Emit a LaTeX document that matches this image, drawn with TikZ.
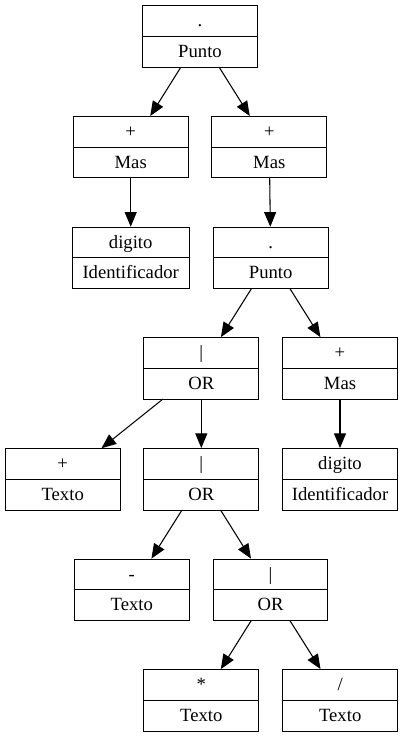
\documentclass[tikz,border=0pt]{standalone}
\usepackage{fontspec}
\setmainfont{Liberation Serif}
\usetikzlibrary{arrows.meta}
\tikzset{
  recbox/.style={draw=black, line width=0.75pt, minimum height=46.1pt, inner sep=0pt, outer sep=0pt},
  lbl/.style={font=\fontsize{14pt}{16pt}\selectfont, anchor=base, inner sep=0pt},
  arr/.style={line width=0.8pt, -{Triangle[length=11pt, width=9pt]}, shorten >=0.4pt}
}
% #1 name, #2 x, #3 y (center, px), #4 width px, #5 top text, #6 bottom text
\newcommand{\recnode}[6]{%
  \node[recbox, minimum width=#4*0.75pt] (#1) at (#2,#3) {};
  \draw[line width=0.75pt] (#1.west) -- (#1.east);
  \node[lbl] (#1-t) at (#2,#3-15.4+5.6) {#5};
  \node[lbl] (#1-b) at (#2,#3+15.4+5.6) {#6};
}
\begin{document}
\begin{tikzpicture}[x=0.75pt, y=-0.75pt]
\useasboundingbox (0,0) rectangle (405,737);
\recnode{root}{200}{36.6}{114.6}{.}{Punto}
\recnode{masL}{130.7}{147.2}{114.7}{+}{Mas}
\recnode{masR}{269.3}{147.2}{114.7}{+}{Mas}
\recnode{digL}{130.7}{258}{117.3}{digito}{Identificador}
\recnode{pun}{270.7}{258}{114.7}{.}{Punto}
\recnode{orA}{201.3}{368.3}{114.7}{|}{OR}
\recnode{masR2}{340}{368.3}{114.7}{+}{Mas}
\recnode{texP}{62.7}{479.3}{114.7}{+}{Texto}
\recnode{orB}{201.3}{479.3}{114.7}{|}{OR}
\recnode{digR}{340}{479.3}{114.7}{digito}{Identificador}
\recnode{texM}{131.8}{589.8}{115}{-}{Texto}
\recnode{orC}{270.5}{589.8}{114.4}{|}{OR}
\recnode{texS}{201.3}{700.3}{115.3}{*}{Texto}
\recnode{texD}{340.2}{700.3}{115}{/}{Texto}
\draw[arr] (root) -- (masL);
\draw[arr] (root) -- (masR);
\draw[arr] (masL) -- (digL);
\draw[arr] (masR) -- (pun);
\draw[arr] (pun) -- (orA);
\draw[arr] (pun) -- (masR2);
\draw[arr] (orA) -- (texP);
\draw[arr] (orA) -- (orB);
\draw[arr] (masR2) -- (digR);
\draw[arr] (orB) -- (texM);
\draw[arr] (orB) -- (orC);
\draw[arr] (orC) -- (texS);
\draw[arr] (orC) -- (texD);
\end{tikzpicture}
\end{document}
